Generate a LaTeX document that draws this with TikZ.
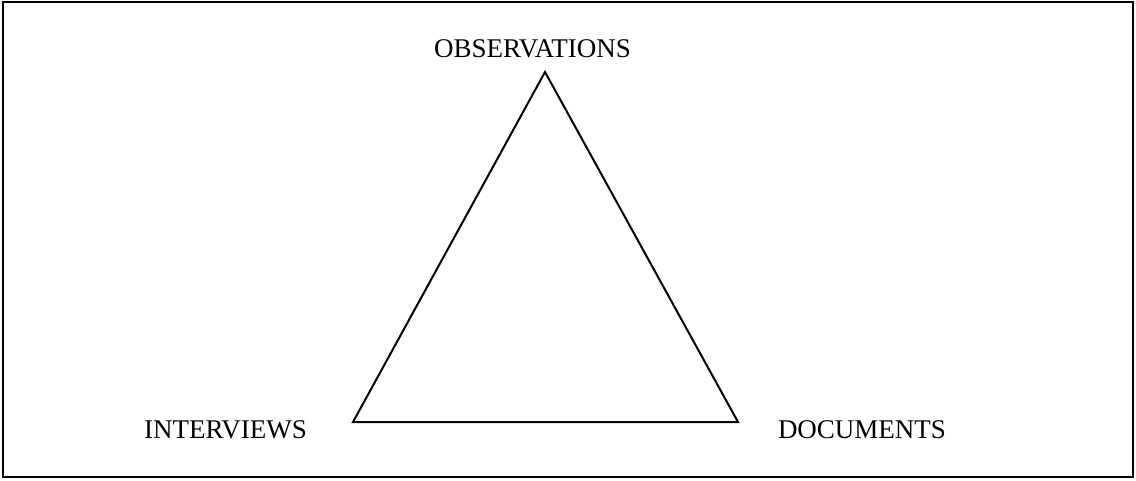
\documentclass[tikz,border=0pt]{standalone}
\usepackage{fontspec}
\setmainfont{Liberation Serif}
\begin{document}
\begin{tikzpicture}[x=1pt,y=-1pt,
  lbl/.style={inner sep=0pt,anchor=base,font=\fontsize{27}{32}\selectfont},
  edge/.style={line width=2pt,line join=miter},
  frame/.style={line width=2pt}]
\useasboundingbox (0,0) rectangle (1136,480);
\draw[frame] (2.5,2) rectangle (1133,476.5);
\coordinate (top) at (545,72);
\coordinate (bl) at (353,422);
\coordinate (br) at (738,422);
\draw[edge] (top) -- (bl) -- (br) -- cycle;
\node[lbl] (obs) at (532.5,57.5) {OBSERVATIONS};
\node[lbl] (int) at (225.5,438.5) {INTERVIEWS};
\node[lbl] (doc) at (862,438.5) {DOCUMENTS};
\end{tikzpicture}
\end{document}
